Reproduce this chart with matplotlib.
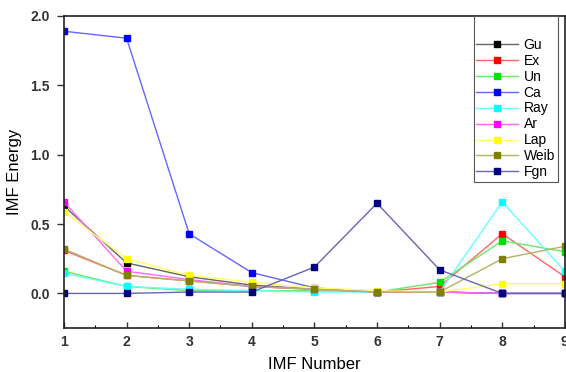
import numpy as np
import matplotlib.pyplot as plt
from matplotlib.colors import to_rgb
from matplotlib.ticker import MultipleLocator

plt.rcParams['font.family'] = ['Liberation Sans', 'DejaVu Sans']

# --- Data ---
imf = [1, 2, 3, 4, 5, 6, 7, 8, 9]
gu = [0.63, 0.22, 0.12, 0.06, 0.03, 0.01, 0.01, 0.00, 0.00]
ex = [0.31, 0.13, 0.09, 0.05, 0.03, 0.01, 0.05, 0.43, 0.12]
un = [0.16, 0.05, 0.02, 0.02, 0.02, 0.01, 0.08, 0.38, 0.30]
ca = [1.89, 1.84, 0.43, 0.15, 0.04, 0.01, 0.01, 0.00, 0.00]
ray = [0.145, 0.05, 0.03, 0.02, 0.01, 0.01, 0.01, 0.66, 0.16]
ar = [0.66, 0.16, 0.10, 0.05, 0.03, 0.01, 0.01, 0.00, 0.00]
lap = [0.59, 0.25, 0.13, 0.08, 0.04, 0.02, 0.01, 0.07, 0.07]
weib = [0.32, 0.13, 0.09, 0.05, 0.03, 0.01, 0.01, 0.25, 0.34]
fgn = [0.00, 0.00, 0.01, 0.01, 0.19, 0.65, 0.17, 0.00, 0.00]

names = ['Gu', 'Ex', 'Un', 'Ca', 'Ray', 'Ar', 'Lap', 'Weib', 'Fgn']
series = [gu, ex, un, ca, ray, ar, lap, weib, fgn]
colors = ['#000000', '#ff0000', '#00e000', '#0000ff', '#00ffff',
          '#ff00ff', '#ffff00', '#808000', '#000080']


def lighten(c, f=0.4):
    r, g, b = to_rgb(c)
    return (r + (1 - r) * f, g + (1 - g) * f, b + (1 - b) * f)


fig = plt.figure(figsize=(5.66, 3.72), dpi=100)
ax = fig.add_axes([0.113, 0.118, 0.885, 0.839])

for name, vals, c in zip(names, series, colors):
    ax.plot(imf, vals, color=lighten(c), lw=1.0, marker='s', ms=5,
            markerfacecolor=c, markeredgecolor=c, label=name)

ax.set_xlim(1, 9)
ax.set_ylim(-0.25, 2.0)
ax.xaxis.set_major_locator(MultipleLocator(1))
ax.xaxis.set_minor_locator(MultipleLocator(0.5))
ax.yaxis.set_major_locator(MultipleLocator(0.5))
ax.yaxis.set_major_formatter(plt.FormatStrFormatter('%.1f'))
ax.tick_params(which='major', direction='in', length=4, width=1,
               labelsize=10, colors='#333333', pad=5)
ax.tick_params(which='minor', direction='in', length=2, width=0.8)
ax.tick_params(axis='y', which='major', direction='out', length=5)
ax.tick_params(axis='y', which='minor', left=False)
for lab in ax.get_xticklabels() + ax.get_yticklabels():
    lab.set_fontweight('bold')
for s in ax.spines.values():
    s.set_linewidth(1.2)
    s.set_color('#222222')

ax.set_xlabel('IMF Number', fontsize=12, labelpad=6)
ax.set_ylabel('IMF Energy', fontsize=12, labelpad=6)

leg = ax.legend(loc='upper right', bbox_to_anchor=(0.986, 1.0), borderaxespad=0,
                fontsize=10, handlelength=3.0, handletextpad=0.4,
                labelspacing=0.14, borderpad=0.2, fancybox=False, framealpha=1,
                edgecolor='#555555', title=' ', title_fontsize=13.5)
leg.get_frame().set_linewidth(0.8)

fig.savefig('out.png', dpi=100, facecolor='white')
